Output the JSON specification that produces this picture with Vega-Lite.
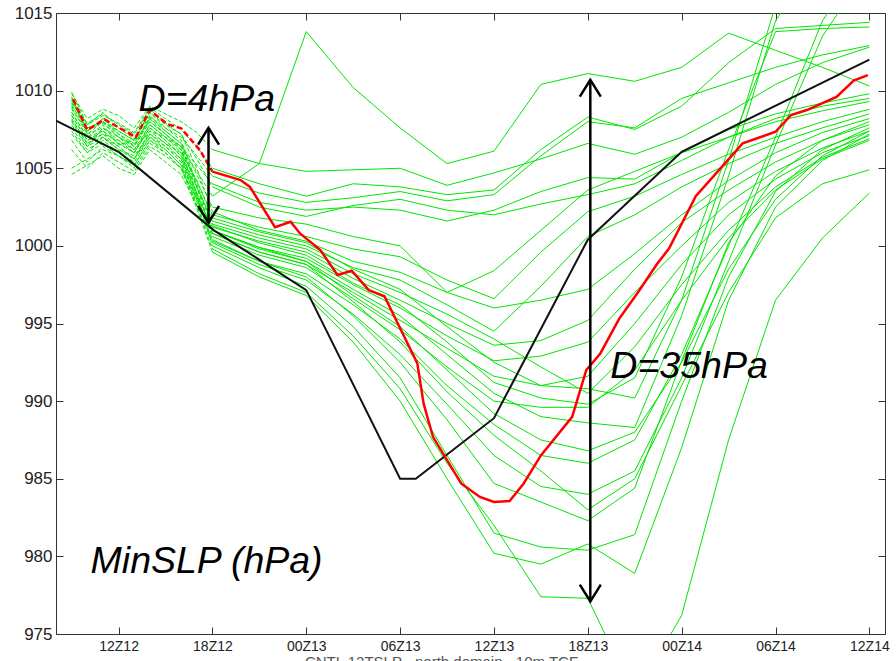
{
"$schema": "https://vega.github.io/schema/vega-lite/v6.json",
"width": 829, "height": 621,
"autosize": {"type": "none"},
"padding": {"left": 56, "top": 13, "right": 11, "bottom": 27},
"background": "white",
"config": {"font": "Liberation Sans", "view": {"stroke": "#333", "strokeWidth": 1}},
"datasets": {
"ge": [
{"m":"U1","t":-3,"p":1008.6},{"m":"U1","t":-2,"p":1007.0},{"m":"U1","t":-1,"p":1007.8},{"m":"U1","t":0,"p":1006.5},{"m":"U1","t":1,"p":1006.8},{"m":"U1","t":2,"p":1008.0},{"m":"U1","t":3,"p":1007.2},{"m":"U1","t":4,"p":1006.4},{"m":"U1","t":5,"p":1004.8},{"m":"U1","t":6,"p":1003.2},
{"m":"U2","t":-3,"p":1009.8},{"m":"U2","t":-2,"p":1008.2},{"m":"U2","t":-1,"p":1008.8},{"m":"U2","t":0,"p":1008.4},{"m":"U2","t":1,"p":1007.6},{"m":"U2","t":2,"p":1009.0},{"m":"U2","t":3,"p":1008.5},{"m":"U2","t":4,"p":1008.0},{"m":"U2","t":5,"p":1007.3},{"m":"U2","t":6,"p":1006.2},
{"m":"U3","t":-3,"p":1009.2},{"m":"U3","t":-2,"p":1007.8},{"m":"U3","t":-1,"p":1008.4},{"m":"U3","t":0,"p":1007.9},{"m":"U3","t":1,"p":1007.3},{"m":"U3","t":2,"p":1008.9},{"m":"U3","t":3,"p":1008.2},{"m":"U3","t":4,"p":1007.5},{"m":"U3","t":5,"p":1006.4},{"m":"U3","t":6,"p":1005.0},
{"m":"U4","t":-3,"p":1008.0},{"m":"U4","t":-2,"p":1006.4},{"m":"U4","t":-1,"p":1007.6},{"m":"U4","t":0,"p":1007.0},{"m":"U4","t":1,"p":1006.5},{"m":"U4","t":2,"p":1008.3},{"m":"U4","t":3,"p":1007.6},{"m":"U4","t":4,"p":1007.0},{"m":"U4","t":5,"p":1005.8},{"m":"U4","t":6,"p":1004.5},
{"m":"U5","t":-3,"p":1007.2},{"m":"U5","t":-2,"p":1006.0},{"m":"U5","t":-1,"p":1007.0},{"m":"U5","t":0,"p":1006.2},{"m":"U5","t":1,"p":1005.6},{"m":"U5","t":2,"p":1007.4},{"m":"U5","t":3,"p":1007.0},{"m":"U5","t":4,"p":1006.4},{"m":"U5","t":5,"p":1005.2},{"m":"U5","t":6,"p":1004.0},
{"m":"U6","t":-3,"p":1009.6},{"m":"U6","t":-2,"p":1007.2},{"m":"U6","t":-1,"p":1008.0},{"m":"U6","t":0,"p":1007.4},{"m":"U6","t":1,"p":1006.8},{"m":"U6","t":2,"p":1008.6},{"m":"U6","t":3,"p":1007.8},{"m":"U6","t":4,"p":1007.2},{"m":"U6","t":5,"p":1005.6},{"m":"U6","t":6,"p":1003.8},
{"m":"M1","t":-3,"p":1008.8},{"m":"M1","t":-2,"p":1007.4},{"m":"M1","t":-1,"p":1008.2},{"m":"M1","t":0,"p":1007.2},{"m":"M1","t":1,"p":1006.6},{"m":"M1","t":2,"p":1008.2},{"m":"M1","t":3,"p":1007.4},{"m":"M1","t":4,"p":1006.6},{"m":"M1","t":5,"p":1004.6},{"m":"M1","t":6,"p":1002.5},
{"m":"M2","t":-3,"p":1009.0},{"m":"M2","t":-2,"p":1007.6},{"m":"M2","t":-1,"p":1007.9},{"m":"M2","t":0,"p":1007.0},{"m":"M2","t":1,"p":1006.2},{"m":"M2","t":2,"p":1007.8},{"m":"M2","t":3,"p":1007.0},{"m":"M2","t":4,"p":1006.2},{"m":"M2","t":5,"p":1004.2},{"m":"M2","t":6,"p":1002.0},
{"m":"M3","t":-3,"p":1008.4},{"m":"M3","t":-2,"p":1006.8},{"m":"M3","t":-1,"p":1007.4},{"m":"M3","t":0,"p":1006.6},{"m":"M3","t":1,"p":1006.0},{"m":"M3","t":2,"p":1007.6},{"m":"M3","t":3,"p":1006.8},{"m":"M3","t":4,"p":1005.8},{"m":"M3","t":5,"p":1003.8},{"m":"M3","t":6,"p":1001.6},
{"m":"M4","t":-3,"p":1006.8},{"m":"M4","t":-2,"p":1005.4},{"m":"M4","t":-1,"p":1006.4},{"m":"M4","t":0,"p":1005.8},{"m":"M4","t":1,"p":1005.2},{"m":"M4","t":2,"p":1006.8},{"m":"M4","t":3,"p":1006.2},{"m":"M4","t":4,"p":1005.2},{"m":"M4","t":5,"p":1003.2},{"m":"M4","t":6,"p":1001.2},
{"m":"M5","t":-3,"p":1005.0},{"m":"M5","t":-2,"p":1005.6},{"m":"M5","t":-1,"p":1006.2},{"m":"M5","t":0,"p":1005.8},{"m":"M5","t":1,"p":1005.0},{"m":"M5","t":2,"p":1006.6},{"m":"M5","t":3,"p":1006.0},{"m":"M5","t":4,"p":1005.0},{"m":"M5","t":5,"p":1003.0},{"m":"M5","t":6,"p":1001.0},
{"m":"M6","t":-3,"p":1008.2},{"m":"M6","t":-2,"p":1006.6},{"m":"M6","t":-1,"p":1007.2},{"m":"M6","t":0,"p":1006.4},{"m":"M6","t":1,"p":1005.6},{"m":"M6","t":2,"p":1007.2},{"m":"M6","t":3,"p":1006.4},{"m":"M6","t":4,"p":1005.4},{"m":"M6","t":5,"p":1003.0},{"m":"M6","t":6,"p":1000.8},
{"m":"M7","t":-3,"p":1009.9},{"m":"M7","t":-2,"p":1007.8},{"m":"M7","t":-1,"p":1008.6},{"m":"M7","t":0,"p":1007.6},{"m":"M7","t":1,"p":1006.9},{"m":"M7","t":2,"p":1008.6},{"m":"M7","t":3,"p":1007.6},{"m":"M7","t":4,"p":1006.8},{"m":"M7","t":5,"p":1004.0},{"m":"M7","t":6,"p":1001.4},
{"m":"M8","t":-3,"p":1007.6},{"m":"M8","t":-2,"p":1006.2},{"m":"M8","t":-1,"p":1006.8},{"m":"M8","t":0,"p":1006.0},{"m":"M8","t":1,"p":1005.4},{"m":"M8","t":2,"p":1007.0},{"m":"M8","t":3,"p":1006.4},{"m":"M8","t":4,"p":1005.6},{"m":"M8","t":5,"p":1003.0},{"m":"M8","t":6,"p":1000.6},
{"m":"M9","t":-3,"p":1009.4},{"m":"M9","t":-2,"p":1007.9},{"m":"M9","t":-1,"p":1008.5},{"m":"M9","t":0,"p":1007.8},{"m":"M9","t":1,"p":1007.2},{"m":"M9","t":2,"p":1008.8},{"m":"M9","t":3,"p":1007.9},{"m":"M9","t":4,"p":1007.2},{"m":"M9","t":5,"p":1005.0},{"m":"M9","t":6,"p":1002.2},
{"m":"S1","t":-3,"p":1008.9},{"m":"S1","t":-2,"p":1007.2},{"m":"S1","t":-1,"p":1007.6},{"m":"S1","t":0,"p":1006.8},{"m":"S1","t":1,"p":1006.2},{"m":"S1","t":2,"p":1007.4},{"m":"S1","t":3,"p":1006.6},{"m":"S1","t":4,"p":1006.0},{"m":"S1","t":5,"p":1004.2},{"m":"S1","t":6,"p":1001.8},
{"m":"S2","t":-3,"p":1007.8},{"m":"S2","t":-2,"p":1006.4},{"m":"S2","t":-1,"p":1007.0},{"m":"S2","t":0,"p":1006.2},{"m":"S2","t":1,"p":1005.8},{"m":"S2","t":2,"p":1007.2},{"m":"S2","t":3,"p":1006.6},{"m":"S2","t":4,"p":1005.6},{"m":"S2","t":5,"p":1003.4},{"m":"S2","t":6,"p":1001.0},
{"m":"S3","t":-3,"p":1009.3},{"m":"S3","t":-2,"p":1007.6},{"m":"S3","t":-1,"p":1008.0},{"m":"S3","t":0,"p":1007.0},{"m":"S3","t":1,"p":1006.4},{"m":"S3","t":2,"p":1008.0},{"m":"S3","t":3,"p":1007.2},{"m":"S3","t":4,"p":1006.4},{"m":"S3","t":5,"p":1003.8},{"m":"S3","t":6,"p":1001.3},
{"m":"S4","t":-3,"p":1006.2},{"m":"S4","t":-2,"p":1005.0},{"m":"S4","t":-1,"p":1006.0},{"m":"S4","t":0,"p":1005.4},{"m":"S4","t":1,"p":1004.8},{"m":"S4","t":2,"p":1006.4},{"m":"S4","t":3,"p":1005.8},{"m":"S4","t":4,"p":1005.0},{"m":"S4","t":5,"p":1002.8},{"m":"S4","t":6,"p":1000.4},
{"m":"S5","t":-3,"p":1004.6},{"m":"S5","t":-2,"p":1005.2},{"m":"S5","t":-1,"p":1005.8},{"m":"S5","t":0,"p":1005.0},{"m":"S5","t":1,"p":1004.6},{"m":"S5","t":2,"p":1006.2},{"m":"S5","t":3,"p":1005.4},{"m":"S5","t":4,"p":1004.6},{"m":"S5","t":5,"p":1002.6},{"m":"S5","t":6,"p":1000.2},
{"m":"L1","t":-3,"p":1008.6},{"m":"L1","t":-2,"p":1007.0},{"m":"L1","t":-1,"p":1007.4},{"m":"L1","t":0,"p":1006.6},{"m":"L1","t":1,"p":1006.0},{"m":"L1","t":2,"p":1007.6},{"m":"L1","t":3,"p":1006.8},{"m":"L1","t":4,"p":1005.8},{"m":"L1","t":5,"p":1003.2},{"m":"L1","t":6,"p":1000.3},
{"m":"L2","t":-3,"p":1009.5},{"m":"L2","t":-2,"p":1007.4},{"m":"L2","t":-1,"p":1008.0},{"m":"L2","t":0,"p":1007.2},{"m":"L2","t":1,"p":1006.4},{"m":"L2","t":2,"p":1008.2},{"m":"L2","t":3,"p":1007.2},{"m":"L2","t":4,"p":1006.2},{"m":"L2","t":5,"p":1003.4},{"m":"L2","t":6,"p":1000.0},
{"m":"L3","t":-3,"p":1008.1},{"m":"L3","t":-2,"p":1006.6},{"m":"L3","t":-1,"p":1007.0},{"m":"L3","t":0,"p":1006.4},{"m":"L3","t":1,"p":1005.6},{"m":"L3","t":2,"p":1007.0},{"m":"L3","t":3,"p":1006.2},{"m":"L3","t":4,"p":1005.2},{"m":"L3","t":5,"p":1002.6},{"m":"L3","t":6,"p":999.8},
{"m":"L4","t":-3,"p":1007.4},{"m":"L4","t":-2,"p":1006.0},{"m":"L4","t":-1,"p":1006.6},{"m":"L4","t":0,"p":1005.8},{"m":"L4","t":1,"p":1005.2},{"m":"L4","t":2,"p":1006.8},{"m":"L4","t":3,"p":1006.0},{"m":"L4","t":4,"p":1005.0},{"m":"L4","t":5,"p":1002.4},{"m":"L4","t":6,"p":999.6},
{"m":"L5","t":-3,"p":1009.1},{"m":"L5","t":-2,"p":1007.4},{"m":"L5","t":-1,"p":1008.2},{"m":"L5","t":0,"p":1007.4},{"m":"L5","t":1,"p":1006.8},{"m":"L5","t":2,"p":1008.4},{"m":"L5","t":3,"p":1007.4},{"m":"L5","t":4,"p":1006.6},{"m":"L5","t":5,"p":1003.8},{"m":"L5","t":6,"p":1000.8},
{"m":"L6","t":-3,"p":1008.4},{"m":"L6","t":-2,"p":1006.8},{"m":"L6","t":-1,"p":1007.2},{"m":"L6","t":0,"p":1006.8},{"m":"L6","t":1,"p":1006.0},{"m":"L6","t":2,"p":1007.8},{"m":"L6","t":3,"p":1007.0},{"m":"L6","t":4,"p":1006.0},{"m":"L6","t":5,"p":1003.4},{"m":"L6","t":6,"p":1001.0}
],
"gl": [
{"m":"U1","t":6,"p":1003.2},{"m":"U1","t":9,"p":1005.3},{"m":"U1","t":12,"p":1013.8},{"m":"U1","t":15,"p":1010.2},{"m":"U1","t":18,"p":1007.6},{"m":"U1","t":21,"p":1005.3},{"m":"U1","t":24,"p":1006.1},{"m":"U1","t":27,"p":1010.4},{"m":"U1","t":30,"p":1011.1},{"m":"U1","t":33,"p":1010.6},{"m":"U1","t":36,"p":1011.5},{"m":"U1","t":39,"p":1013.7},{"m":"U1","t":42,"p":1012.6},{"m":"U1","t":45,"p":1011.5},{"m":"U1","t":48,"p":1010.3},
{"m":"U2","t":6,"p":1006.2},{"m":"U2","t":9,"p":1005.3},{"m":"U2","t":12,"p":1004.8},{"m":"U2","t":15,"p":1004.9},{"m":"U2","t":18,"p":1005.0},{"m":"U2","t":21,"p":1003.9},{"m":"U2","t":24,"p":1004.7},{"m":"U2","t":27,"p":1005.6},{"m":"U2","t":30,"p":1006.6},{"m":"U2","t":33,"p":1005.9},{"m":"U2","t":36,"p":1007.0},{"m":"U2","t":39,"p":1008.6},{"m":"U2","t":42,"p":1010.4},{"m":"U2","t":45,"p":1011.8},{"m":"U2","t":48,"p":1012.8},
{"m":"U3","t":6,"p":1005.0},{"m":"U3","t":9,"p":1004.0},{"m":"U3","t":12,"p":1003.2},{"m":"U3","t":15,"p":1004.0},{"m":"U3","t":18,"p":1003.8},{"m":"U3","t":21,"p":1003.3},{"m":"U3","t":24,"p":1003.6},{"m":"U3","t":27,"p":1006.2},{"m":"U3","t":30,"p":1008.3},{"m":"U3","t":33,"p":1007.5},{"m":"U3","t":36,"p":1009.0},{"m":"U3","t":39,"p":1011.8},{"m":"U3","t":42,"p":1014.0},{"m":"U3","t":45,"p":1014.2},{"m":"U3","t":48,"p":1014.4},
{"m":"U4","t":6,"p":1004.5},{"m":"U4","t":9,"p":1003.4},{"m":"U4","t":12,"p":1002.8},{"m":"U4","t":15,"p":1003.1},{"m":"U4","t":18,"p":1003.5},{"m":"U4","t":21,"p":1002.9},{"m":"U4","t":24,"p":1003.3},{"m":"U4","t":27,"p":1005.8},{"m":"U4","t":30,"p":1008.0},{"m":"U4","t":33,"p":1007.6},{"m":"U4","t":36,"p":1009.5},{"m":"U4","t":39,"p":1010.5},{"m":"U4","t":42,"p":1011.5},{"m":"U4","t":45,"p":1012.3},{"m":"U4","t":48,"p":1012.9},
{"m":"U5","t":6,"p":1004.0},{"m":"U5","t":9,"p":1002.8},{"m":"U5","t":12,"p":1002.3},{"m":"U5","t":15,"p":1002.5},{"m":"U5","t":18,"p":1002.3},{"m":"U5","t":21,"p":1001.6},{"m":"U5","t":24,"p":1002.3},{"m":"U5","t":27,"p":1003.5},{"m":"U5","t":30,"p":1004.4},{"m":"U5","t":33,"p":1004.3},{"m":"U5","t":36,"p":1006.0},{"m":"U5","t":39,"p":1007.5},{"m":"U5","t":42,"p":1008.5},{"m":"U5","t":45,"p":1009.2},{"m":"U5","t":48,"p":1009.8},
{"m":"U6","t":6,"p":1003.8},{"m":"U6","t":9,"p":1002.5},{"m":"U6","t":12,"p":1001.9},{"m":"U6","t":15,"p":1002.6},{"m":"U6","t":18,"p":1003.0},{"m":"U6","t":21,"p":1002.3},{"m":"U6","t":24,"p":1002.0},{"m":"U6","t":27,"p":1002.7},{"m":"U6","t":30,"p":1003.3},{"m":"U6","t":33,"p":1004.0},{"m":"U6","t":36,"p":1005.5},{"m":"U6","t":39,"p":1007.0},{"m":"U6","t":42,"p":1008.2},{"m":"U6","t":45,"p":1009.0},{"m":"U6","t":48,"p":1009.5},
{"m":"M1","t":6,"p":1002.5},{"m":"M1","t":9,"p":1001.8},{"m":"M1","t":12,"p":1001.4},{"m":"M1","t":15,"p":1000.6},{"m":"M1","t":18,"p":1000.0},{"m":"M1","t":21,"p":997.0},{"m":"M1","t":24,"p":998.4},{"m":"M1","t":27,"p":1001.0},{"m":"M1","t":30,"p":1003.6},{"m":"M1","t":33,"p":1004.8},{"m":"M1","t":36,"p":1006.0},{"m":"M1","t":39,"p":1007.0},{"m":"M1","t":42,"p":1008.0},{"m":"M1","t":45,"p":1008.7},{"m":"M1","t":48,"p":1009.3},
{"m":"M2","t":6,"p":1002.0},{"m":"M2","t":9,"p":1001.2},{"m":"M2","t":12,"p":1000.6},{"m":"M2","t":15,"p":999.8},{"m":"M2","t":18,"p":999.3},{"m":"M2","t":21,"p":997.8},{"m":"M2","t":24,"p":996.6},{"m":"M2","t":27,"p":999.6},{"m":"M2","t":30,"p":1002.2},{"m":"M2","t":33,"p":1003.2},{"m":"M2","t":36,"p":1004.6},{"m":"M2","t":39,"p":1005.9},{"m":"M2","t":42,"p":1007.0},{"m":"M2","t":45,"p":1008.0},{"m":"M2","t":48,"p":1008.8},
{"m":"M3","t":6,"p":1001.6},{"m":"M3","t":9,"p":1000.7},{"m":"M3","t":12,"p":1000.0},{"m":"M3","t":15,"p":998.6},{"m":"M3","t":18,"p":997.8},{"m":"M3","t":21,"p":996.2},{"m":"M3","t":24,"p":994.5},{"m":"M3","t":27,"p":997.4},{"m":"M3","t":30,"p":1000.6},{"m":"M3","t":33,"p":1002.0},{"m":"M3","t":36,"p":1003.8},{"m":"M3","t":39,"p":1005.3},{"m":"M3","t":42,"p":1006.6},{"m":"M3","t":45,"p":1007.6},{"m":"M3","t":48,"p":1008.5},
{"m":"M4","t":6,"p":1001.2},{"m":"M4","t":9,"p":1000.3},{"m":"M4","t":12,"p":999.6},{"m":"M4","t":15,"p":997.9},{"m":"M4","t":18,"p":996.5},{"m":"M4","t":21,"p":995.0},{"m":"M4","t":24,"p":993.6},{"m":"M4","t":27,"p":993.9},{"m":"M4","t":30,"p":995.2},{"m":"M4","t":33,"p":998.5},{"m":"M4","t":36,"p":1001.5},{"m":"M4","t":39,"p":1003.6},{"m":"M4","t":42,"p":1005.4},{"m":"M4","t":45,"p":1006.8},{"m":"M4","t":48,"p":1007.8},
{"m":"M5","t":6,"p":1001.0},{"m":"M5","t":9,"p":999.9},{"m":"M5","t":12,"p":999.2},{"m":"M5","t":15,"p":997.5},{"m":"M5","t":18,"p":996.0},{"m":"M5","t":21,"p":994.2},{"m":"M5","t":24,"p":992.6},{"m":"M5","t":27,"p":992.9},{"m":"M5","t":30,"p":993.8},{"m":"M5","t":33,"p":997.0},{"m":"M5","t":36,"p":1000.0},{"m":"M5","t":39,"p":1002.8},{"m":"M5","t":42,"p":1004.8},{"m":"M5","t":45,"p":1006.3},{"m":"M5","t":48,"p":1007.4},
{"m":"M6","t":6,"p":1000.8},{"m":"M6","t":9,"p":999.6},{"m":"M6","t":12,"p":998.8},{"m":"M6","t":15,"p":997.0},{"m":"M6","t":18,"p":995.2},{"m":"M6","t":21,"p":993.4},{"m":"M6","t":24,"p":991.6},{"m":"M6","t":27,"p":991.0},{"m":"M6","t":30,"p":991.6},{"m":"M6","t":33,"p":995.0},{"m":"M6","t":36,"p":998.8},{"m":"M6","t":39,"p":1002.0},{"m":"M6","t":42,"p":1004.3},{"m":"M6","t":45,"p":1006.0},{"m":"M6","t":48,"p":1007.1},
{"m":"M7","t":6,"p":1001.4},{"m":"M7","t":9,"p":1000.5},{"m":"M7","t":12,"p":999.8},{"m":"M7","t":15,"p":998.2},{"m":"M7","t":18,"p":997.0},{"m":"M7","t":21,"p":995.6},{"m":"M7","t":24,"p":994.0},{"m":"M7","t":27,"p":992.2},{"m":"M7","t":30,"p":990.5},{"m":"M7","t":33,"p":993.5},{"m":"M7","t":36,"p":997.5},{"m":"M7","t":39,"p":1001.0},{"m":"M7","t":42,"p":1003.8},{"m":"M7","t":45,"p":1005.7},{"m":"M7","t":48,"p":1006.9},
{"m":"M8","t":6,"p":1000.6},{"m":"M8","t":9,"p":999.4},{"m":"M8","t":12,"p":998.6},{"m":"M8","t":15,"p":996.6},{"m":"M8","t":18,"p":994.6},{"m":"M8","t":21,"p":992.2},{"m":"M8","t":24,"p":990.0},{"m":"M8","t":27,"p":989.6},{"m":"M8","t":30,"p":989.6},{"m":"M8","t":33,"p":992.0},{"m":"M8","t":36,"p":996.5},{"m":"M8","t":39,"p":1000.5},{"m":"M8","t":42,"p":1003.6},{"m":"M8","t":45,"p":1005.6},{"m":"M8","t":48,"p":1006.8},
{"m":"M9","t":6,"p":1002.2},{"m":"M9","t":9,"p":1001.0},{"m":"M9","t":12,"p":1000.3},{"m":"M9","t":15,"p":999.0},{"m":"M9","t":18,"p":998.3},{"m":"M9","t":21,"p":997.0},{"m":"M9","t":24,"p":996.0},{"m":"M9","t":27,"p":996.5},{"m":"M9","t":30,"p":997.2},{"m":"M9","t":33,"p":999.5},{"m":"M9","t":36,"p":1002.0},{"m":"M9","t":39,"p":1004.2},{"m":"M9","t":42,"p":1006.0},{"m":"M9","t":45,"p":1007.3},{"m":"M9","t":48,"p":1008.2},
{"m":"S1","t":6,"p":1001.8},{"m":"S1","t":9,"p":1000.9},{"m":"S1","t":12,"p":1000.2},{"m":"S1","t":15,"p":998.5},{"m":"S1","t":18,"p":997.2},{"m":"S1","t":21,"p":994.8},{"m":"S1","t":24,"p":992.5},{"m":"S1","t":27,"p":991.0},{"m":"S1","t":30,"p":990.8},{"m":"S1","t":33,"p":990.2},{"m":"S1","t":36,"p":996.5},{"m":"S1","t":39,"p":1005.5},{"m":"S1","t":42,"p":1015.5},{"m":"S1","t":45,"p":1020.0},{"m":"S1","t":48,"p":1022.0},
{"m":"S2","t":6,"p":1001.0},{"m":"S2","t":9,"p":999.9},{"m":"S2","t":12,"p":999.0},{"m":"S2","t":15,"p":997.2},{"m":"S2","t":18,"p":995.5},{"m":"S2","t":21,"p":993.0},{"m":"S2","t":24,"p":990.5},{"m":"S2","t":27,"p":989.0},{"m":"S2","t":30,"p":988.6},{"m":"S2","t":33,"p":988.3},{"m":"S2","t":36,"p":995.5},{"m":"S2","t":39,"p":1004.5},{"m":"S2","t":42,"p":1014.5},{"m":"S2","t":45,"p":1019.0},{"m":"S2","t":48,"p":1021.0},
{"m":"S3","t":6,"p":1001.3},{"m":"S3","t":9,"p":1000.2},{"m":"S3","t":12,"p":999.4},{"m":"S3","t":15,"p":997.6},{"m":"S3","t":18,"p":996.2},{"m":"S3","t":21,"p":993.8},{"m":"S3","t":24,"p":991.2},{"m":"S3","t":27,"p":990.2},{"m":"S3","t":30,"p":989.8},{"m":"S3","t":33,"p":991.5},{"m":"S3","t":36,"p":998.0},{"m":"S3","t":39,"p":1006.2},{"m":"S3","t":42,"p":1013.8},{"m":"S3","t":45,"p":1014.0},{"m":"S3","t":48,"p":1014.1},
{"m":"S4","t":6,"p":1000.4},{"m":"S4","t":9,"p":999.0},{"m":"S4","t":12,"p":998.2},{"m":"S4","t":15,"p":996.2},{"m":"S4","t":18,"p":994.0},{"m":"S4","t":21,"p":991.0},{"m":"S4","t":24,"p":988.5},{"m":"S4","t":27,"p":986.5},{"m":"S4","t":30,"p":986.0},{"m":"S4","t":33,"p":987.5},{"m":"S4","t":36,"p":993.0},{"m":"S4","t":39,"p":1000.0},{"m":"S4","t":42,"p":1007.0},{"m":"S4","t":45,"p":1014.5},{"m":"S4","t":48,"p":1019.0},
{"m":"S5","t":6,"p":1000.2},{"m":"S5","t":9,"p":998.8},{"m":"S5","t":12,"p":997.8},{"m":"S5","t":15,"p":995.6},{"m":"S5","t":18,"p":993.0},{"m":"S5","t":21,"p":989.8},{"m":"S5","t":24,"p":986.5},{"m":"S5","t":27,"p":984.5},{"m":"S5","t":30,"p":984.0},{"m":"S5","t":33,"p":985.5},{"m":"S5","t":36,"p":991.5},{"m":"S5","t":39,"p":999.0},{"m":"S5","t":42,"p":1006.5},{"m":"S5","t":45,"p":1013.5},{"m":"S5","t":48,"p":1018.0},
{"m":"L1","t":6,"p":1000.3},{"m":"L1","t":9,"p":999.0},{"m":"L1","t":12,"p":998.0},{"m":"L1","t":15,"p":995.5},{"m":"L1","t":18,"p":992.5},{"m":"L1","t":21,"p":988.8},{"m":"L1","t":24,"p":984.7},{"m":"L1","t":27,"p":983.5},{"m":"L1","t":30,"p":982.3},{"m":"L1","t":33,"p":984.4},{"m":"L1","t":36,"p":992.6},{"m":"L1","t":39,"p":1000.2},{"m":"L1","t":42,"p":1004.5},{"m":"L1","t":45,"p":1006.8},{"m":"L1","t":48,"p":1008.0},
{"m":"L2","t":6,"p":1000.0},{"m":"L2","t":9,"p":998.6},{"m":"L2","t":12,"p":997.4},{"m":"L2","t":15,"p":994.8},{"m":"L2","t":18,"p":991.5},{"m":"L2","t":21,"p":986.5},{"m":"L2","t":24,"p":981.5},{"m":"L2","t":27,"p":980.6},{"m":"L2","t":30,"p":980.4},{"m":"L2","t":33,"p":981.4},{"m":"L2","t":36,"p":990.0},{"m":"L2","t":39,"p":998.0},{"m":"L2","t":42,"p":1003.5},{"m":"L2","t":45,"p":1006.2},{"m":"L2","t":48,"p":1007.6},
{"m":"L3","t":6,"p":999.8},{"m":"L3","t":9,"p":998.2},{"m":"L3","t":12,"p":997.0},{"m":"L3","t":15,"p":994.2},{"m":"L3","t":18,"p":990.8},{"m":"L3","t":21,"p":986.0},{"m":"L3","t":24,"p":982.0},{"m":"L3","t":27,"p":977.4},{"m":"L3","t":30,"p":977.3},{"m":"L3","t":33,"p":971.0},{"m":"L3","t":36,"p":976.2},{"m":"L3","t":39,"p":987.5},{"m":"L3","t":42,"p":996.5},{"m":"L3","t":45,"p":1000.5},{"m":"L3","t":48,"p":1003.4},
{"m":"L4","t":6,"p":999.6},{"m":"L4","t":9,"p":998.0},{"m":"L4","t":12,"p":996.8},{"m":"L4","t":15,"p":993.8},{"m":"L4","t":18,"p":990.0},{"m":"L4","t":21,"p":985.0},{"m":"L4","t":24,"p":980.2},{"m":"L4","t":27,"p":979.5},{"m":"L4","t":30,"p":980.8},{"m":"L4","t":33,"p":978.9},{"m":"L4","t":36,"p":987.0},{"m":"L4","t":39,"p":996.5},{"m":"L4","t":42,"p":1002.5},{"m":"L4","t":45,"p":1005.5},{"m":"L4","t":48,"p":1007.2},
{"m":"L5","t":6,"p":1000.8},{"m":"L5","t":9,"p":999.6},{"m":"L5","t":12,"p":998.8},{"m":"L5","t":15,"p":996.4},{"m":"L5","t":18,"p":993.8},{"m":"L5","t":21,"p":990.6},{"m":"L5","t":24,"p":987.8},{"m":"L5","t":27,"p":985.5},{"m":"L5","t":30,"p":983.0},{"m":"L5","t":33,"p":985.0},{"m":"L5","t":36,"p":991.0},{"m":"L5","t":39,"p":997.0},{"m":"L5","t":42,"p":1001.8},{"m":"L5","t":45,"p":1004.0},{"m":"L5","t":48,"p":1004.9},
{"m":"L6","t":6,"p":1001.0},{"m":"L6","t":9,"p":999.8},{"m":"L6","t":12,"p":999.0},{"m":"L6","t":15,"p":996.8},{"m":"L6","t":18,"p":994.8},{"m":"L6","t":21,"p":992.0},{"m":"L6","t":24,"p":989.2},{"m":"L6","t":27,"p":987.5},{"m":"L6","t":30,"p":986.8},{"m":"L6","t":33,"p":988.0},{"m":"L6","t":36,"p":992.5},{"m":"L6","t":39,"p":998.5},{"m":"L6","t":42,"p":1003.0},{"m":"L6","t":45,"p":1005.8},{"m":"L6","t":48,"p":1007.4}
],
"bk": [
{"t":-4,"p":1008.06},{"t":0,"p":1006.06},{"t":0.6,"p":1005.57},{"t":6.1,"p":1001.0},{"t":12,"p":997.15},{"t":18,"p":985.0},{"t":19,"p":985.0},{"t":24,"p":988.9},{"t":30,"p":1000.4},{"t":36,"p":1006.06},{"t":48,"p":1012.0}
],
"re": [
{"t":-2.9,"p":1009.44},{"t":-2,"p":1007.46},{"t":-0.9,"p":1008.15},{"t":1.1,"p":1007.0},{"t":2,"p":1008.75},{"t":3.1,"p":1007.85},{"t":4,"p":1007.57},{"t":5.2,"p":1006.17},{"t":6,"p":1004.78}
],
"rl": [
{"t":6,"p":1004.78},{"t":7.8,"p":1004.24},{"t":8.4,"p":1003.8},{"t":10,"p":1001.2},{"t":11,"p":1001.55},{"t":11.6,"p":1000.8},{"t":12.9,"p":999.73},{"t":14,"p":998.12},{"t":14.9,"p":998.4},{"t":16,"p":997.15},{"t":17,"p":996.76},{"t":19.1,"p":992.43},{"t":19.5,"p":989.85},{"t":20.1,"p":987.7},{"t":21.9,"p":984.7},{"t":23.1,"p":983.83},{"t":24,"p":983.5},{"t":25,"p":983.56},{"t":25.9,"p":984.7},{"t":27,"p":986.5},{"t":29,"p":988.99},{"t":29.9,"p":992.0},{"t":30.8,"p":993.07},{"t":32,"p":995.3},{"t":33.2,"p":997.0},{"t":34.4,"p":998.8},{"t":35.2,"p":999.84},{"t":36.9,"p":1003.2},{"t":38.4,"p":1004.9},{"t":39.9,"p":1006.6},{"t":42,"p":1007.35},{"t":43,"p":1008.43},{"t":44,"p":1008.75},{"t":45.9,"p":1009.6},{"t":47,"p":1010.64},{"t":47.9,"p":1011.0}
],
"arr": [
{"t":5.75,"p":1007.6,"p2":1001.5},{"t":30.16,"p":1010.7,"p2":977.1}
],
"heads": [
{"t":5.75,"p":1007.6,"dir":"up"},{"t":5.75,"p":1001.5,"dir":"down"},{"t":30.16,"p":1010.7,"dir":"up"},{"t":30.16,"p":977.1,"dir":"down"}
],
"ann": [
{"t":1.28,"p":1008.69,"txt":"D=4hPa"},{"t":31.44,"p":991.47,"txt":"D=35hPa"},{"t":-1.79,"p":978.93,"txt":"MinSLP (hPa)"}
]
},
"layer": [
{"data": {"name": "ge"},
 "mark": {"type": "line", "color": "#00e600", "strokeWidth": 1, "strokeDash": [4, 2], "clip": true},
 "encoding": {
  "x": {"field": "t", "type": "quantitative", "scale": {"domain": [-4, 49], "nice": false, "zero": false},
        "axis": {"orient": "bottom", "values": [0, 6, 12, 18, 24, 30, 36, 42, 48],
                 "labelExpr": "['12Z12','18Z12','00Z13','06Z13','12Z13','18Z13','00Z14','06Z14','12Z14'][round(datum.value/6)]",
                 "grid": false, "domain": false, "offset": -7, "tickSize": 7, "tickWidth": 1, "tickColor": "#333", "labelPadding": 5, "labelFlush": false,
                 "labelFontSize": 14, "labelColor": "#222",
                 "title": "CNTL 12TSLP - north domain - 10m TCF", "titleFontSize": 15, "titleFontWeight": "normal", "titleColor": "#555",
                 "titleX": 385, "titleY": 27, "titleBaseline": "top", "titleAlign": "center"}},
  "y": {"field": "p", "type": "quantitative", "scale": {"domain": [975, 1015], "nice": false, "zero": false},
        "axis": {"orient": "left", "values": [975, 980, 985, 990, 995, 1000, 1005, 1010, 1015], "format": "d",
                 "grid": false, "domain": false, "offset": -7, "tickSize": 7, "tickWidth": 1, "tickColor": "#333", "labelPadding": 4,
                 "labelFontSize": 17, "labelColor": "#222", "title": null}},
  "detail": {"field": "m"}}},
{"data": {"name": "gl"},
 "mark": {"type": "line", "color": "#00e600", "strokeWidth": 1, "clip": true},
 "encoding": {
  "x": {"field": "t", "type": "quantitative",
        "axis": {"orient": "top", "values": [0, 6, 12, 18, 24, 30, 36, 42, 48], "labels": false, "grid": false, "domain": false, "offset": -7, "tickSize": 7, "tickWidth": 1, "tickColor": "#333", "title": null}},
  "y": {"field": "p", "type": "quantitative",
        "axis": {"orient": "right", "values": [975, 980, 985, 990, 995, 1000, 1005, 1010, 1015], "labels": false, "grid": false, "domain": false, "offset": -7, "tickSize": 7, "tickWidth": 1, "tickColor": "#333", "title": null}},
  "detail": {"field": "m"}}},
{"data": {"name": "bk"},
 "mark": {"type": "line", "color": "#111", "strokeWidth": 2, "clip": true},
 "encoding": {"x": {"field": "t", "type": "quantitative", "axis": null}, "y": {"field": "p", "type": "quantitative", "axis": null}}},
{"data": {"name": "re"},
 "mark": {"type": "line", "color": "#ff0000", "strokeWidth": 2.5, "strokeDash": [6, 3], "clip": true},
 "encoding": {"x": {"field": "t", "type": "quantitative", "axis": null}, "y": {"field": "p", "type": "quantitative", "axis": null}}},
{"data": {"name": "rl"},
 "mark": {"type": "line", "color": "#ff0000", "strokeWidth": 2.5, "clip": true},
 "encoding": {"x": {"field": "t", "type": "quantitative", "axis": null}, "y": {"field": "p", "type": "quantitative", "axis": null}}},
{"data": {"name": "arr"},
 "mark": {"type": "rule", "color": "black", "strokeWidth": 2.5},
 "encoding": {"x": {"field": "t", "type": "quantitative", "axis": null}, "y": {"field": "p", "type": "quantitative", "axis": null}, "y2": {"field": "p2"}}},
{"data": {"name": "heads"},
 "mark": {"type": "point", "filled": false, "stroke": "black", "strokeWidth": 2.5, "size": 441, "opacity": 1},
 "encoding": {"x": {"field": "t", "type": "quantitative", "axis": null}, "y": {"field": "p", "type": "quantitative", "axis": null},
  "shape": {"field": "dir", "type": "nominal", "scale": {"domain": ["up", "down"], "range": ["M-1,1.6L0,0L1,1.6", "M-1,-1.6L0,0L1,-1.6"]}, "legend": null}}},
{"data": {"name": "ann"},
 "mark": {"type": "text", "align": "left", "baseline": "alphabetic", "fontSize": 37.5, "fontStyle": "italic", "color": "black", "font": "Liberation Sans"},
 "encoding": {"x": {"field": "t", "type": "quantitative", "axis": null}, "y": {"field": "p", "type": "quantitative", "axis": null}, "text": {"field": "txt"}}}
]
}
